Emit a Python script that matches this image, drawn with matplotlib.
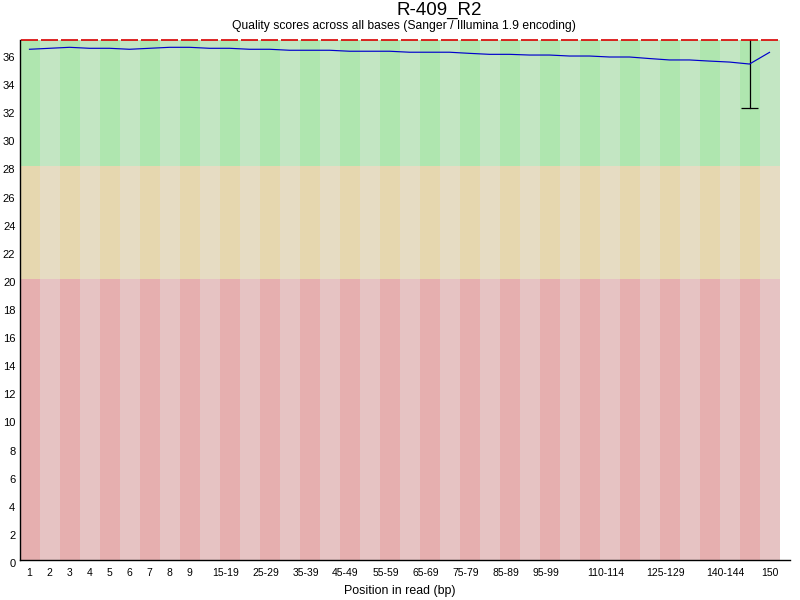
import matplotlib
matplotlib.use('Agg')
import matplotlib.pyplot as plt
import matplotlib.transforms as mtransforms
import numpy as np

plt.rcParams['font.family'] = ['Liberation Sans', 'DejaVu Sans']

# position bins as FastQC groups them
bins = [str(i) for i in range(1, 10)] + \
       ['%d-%d' % (s, s + 4) for s in range(10, 150, 5)] + ['150']
shown = ['1', '2', '3', '4', '5', '6', '7', '8', '9', '15-19', '25-29',
         '35-39', '45-49', '55-59', '65-69', '75-79', '85-89', '95-99',
         '110-114', '125-129', '140-144', '150']

mean_q = [36.34, 36.41, 36.48, 36.41, 36.41, 36.34, 36.41, 36.48, 36.48,
          36.41, 36.41, 36.34, 36.34, 36.27, 36.27, 36.27, 36.20, 36.20,
          36.20, 36.13, 36.13, 36.13, 36.05, 35.98, 35.98, 35.93, 35.93,
          35.86, 35.86, 35.79, 35.79, 35.68, 35.58, 35.58, 35.50, 35.43,
          35.29, 36.12]
median_q = [37] * 38
p10 = [37] * 36 + [32.15, 37]
p90 = [37] * 38

# quality zones: (low, high, dark colour, light colour)
zones = [(0, 20, (230, 175, 175), (230, 195, 195)),
         (20, 28, (230, 215, 175), (230, 220, 195)),
         (28, 37, (175, 230, 175), (195, 230, 195))]

fig = plt.figure(figsize=(8, 6), dpi=100)
ax = fig.add_axes([19.5 / 800, 40 / 600, 760 / 800, 520 / 600])

x = np.arange(len(bins))
for lo, hi, dark, light in zones:
    cols = [np.array(dark if i % 2 == 0 else light) / 255 for i in x]
    ax.bar(x, hi - lo, bottom=lo, width=1.0, color=cols, linewidth=0)

# whiskers (10th-90th percentile)
for i in x:
    if p90[i] > p10[i]:
        ax.plot([i, i], [p10[i], p90[i]], color='black', lw=0.9, clip_on=False)
        ax.plot([i - 0.43, i + 0.43], [p10[i], p10[i]], color='black', lw=0.9,
                solid_capstyle='butt')

# medians
for i in x:
    ax.plot([i - 0.43, i + 0.43], [median_q[i], median_q[i]],
            color=(0.85, 0, 0), lw=1.2, clip_on=False, solid_capstyle='butt')

ax.plot(x, mean_q, color=(0, 0, 0.8), lw=0.85)

ax.set_xlim(-0.5, len(bins) - 0.5)
ax.set_ylim(0, 37)
ax.set_yticks(range(0, 37, 2))
ax.set_yticklabels([str(v) for v in range(0, 37, 2)], fontsize=8)
ax.set_xticks([i for i, b in enumerate(bins) if b in shown])
ax.set_xticklabels([b for b in bins if b in shown], fontsize=7.5)
ax.tick_params(length=0)
ax.tick_params(axis='x', pad=6)
ax.tick_params(axis='y', pad=3)

# FastQC draws group labels a few pixels left of the bin centre
for lab in ax.get_xticklabels():
    if '-' in lab.get_text():
        lab.set_transform(lab.get_transform() +
                          mtransforms.ScaledTranslation(-4 / 100, 0, fig.dpi_scale_trans))
for lab in ax.get_yticklabels():
    lab.set_transform(lab.get_transform() +
                      mtransforms.ScaledTranslation(0, -3 / 100, fig.dpi_scale_trans))

ax.spines['top'].set_visible(False)
ax.spines['right'].set_visible(False)
ax.spines['bottom'].set_bounds(-0.5, 38.0)
ax.spines['left'].set_linewidth(1.0)
ax.spines['bottom'].set_linewidth(1.0)

fig.text(439 / 800, 1 - 15 / 600, 'R-409_R2', ha='center', va='baseline',
         fontsize=13.5)
fig.text(403.5 / 800, 1 - 29 / 600,
         'Quality scores across all bases (Sanger / Illumina 1.9 encoding)',
         ha='center', va='baseline', fontsize=8.7)
fig.text(400 / 800, 1 - 594 / 600, 'Position in read (bp)', ha='center',
         va='baseline', fontsize=8.9)

fig.savefig('out.png', dpi=100)
